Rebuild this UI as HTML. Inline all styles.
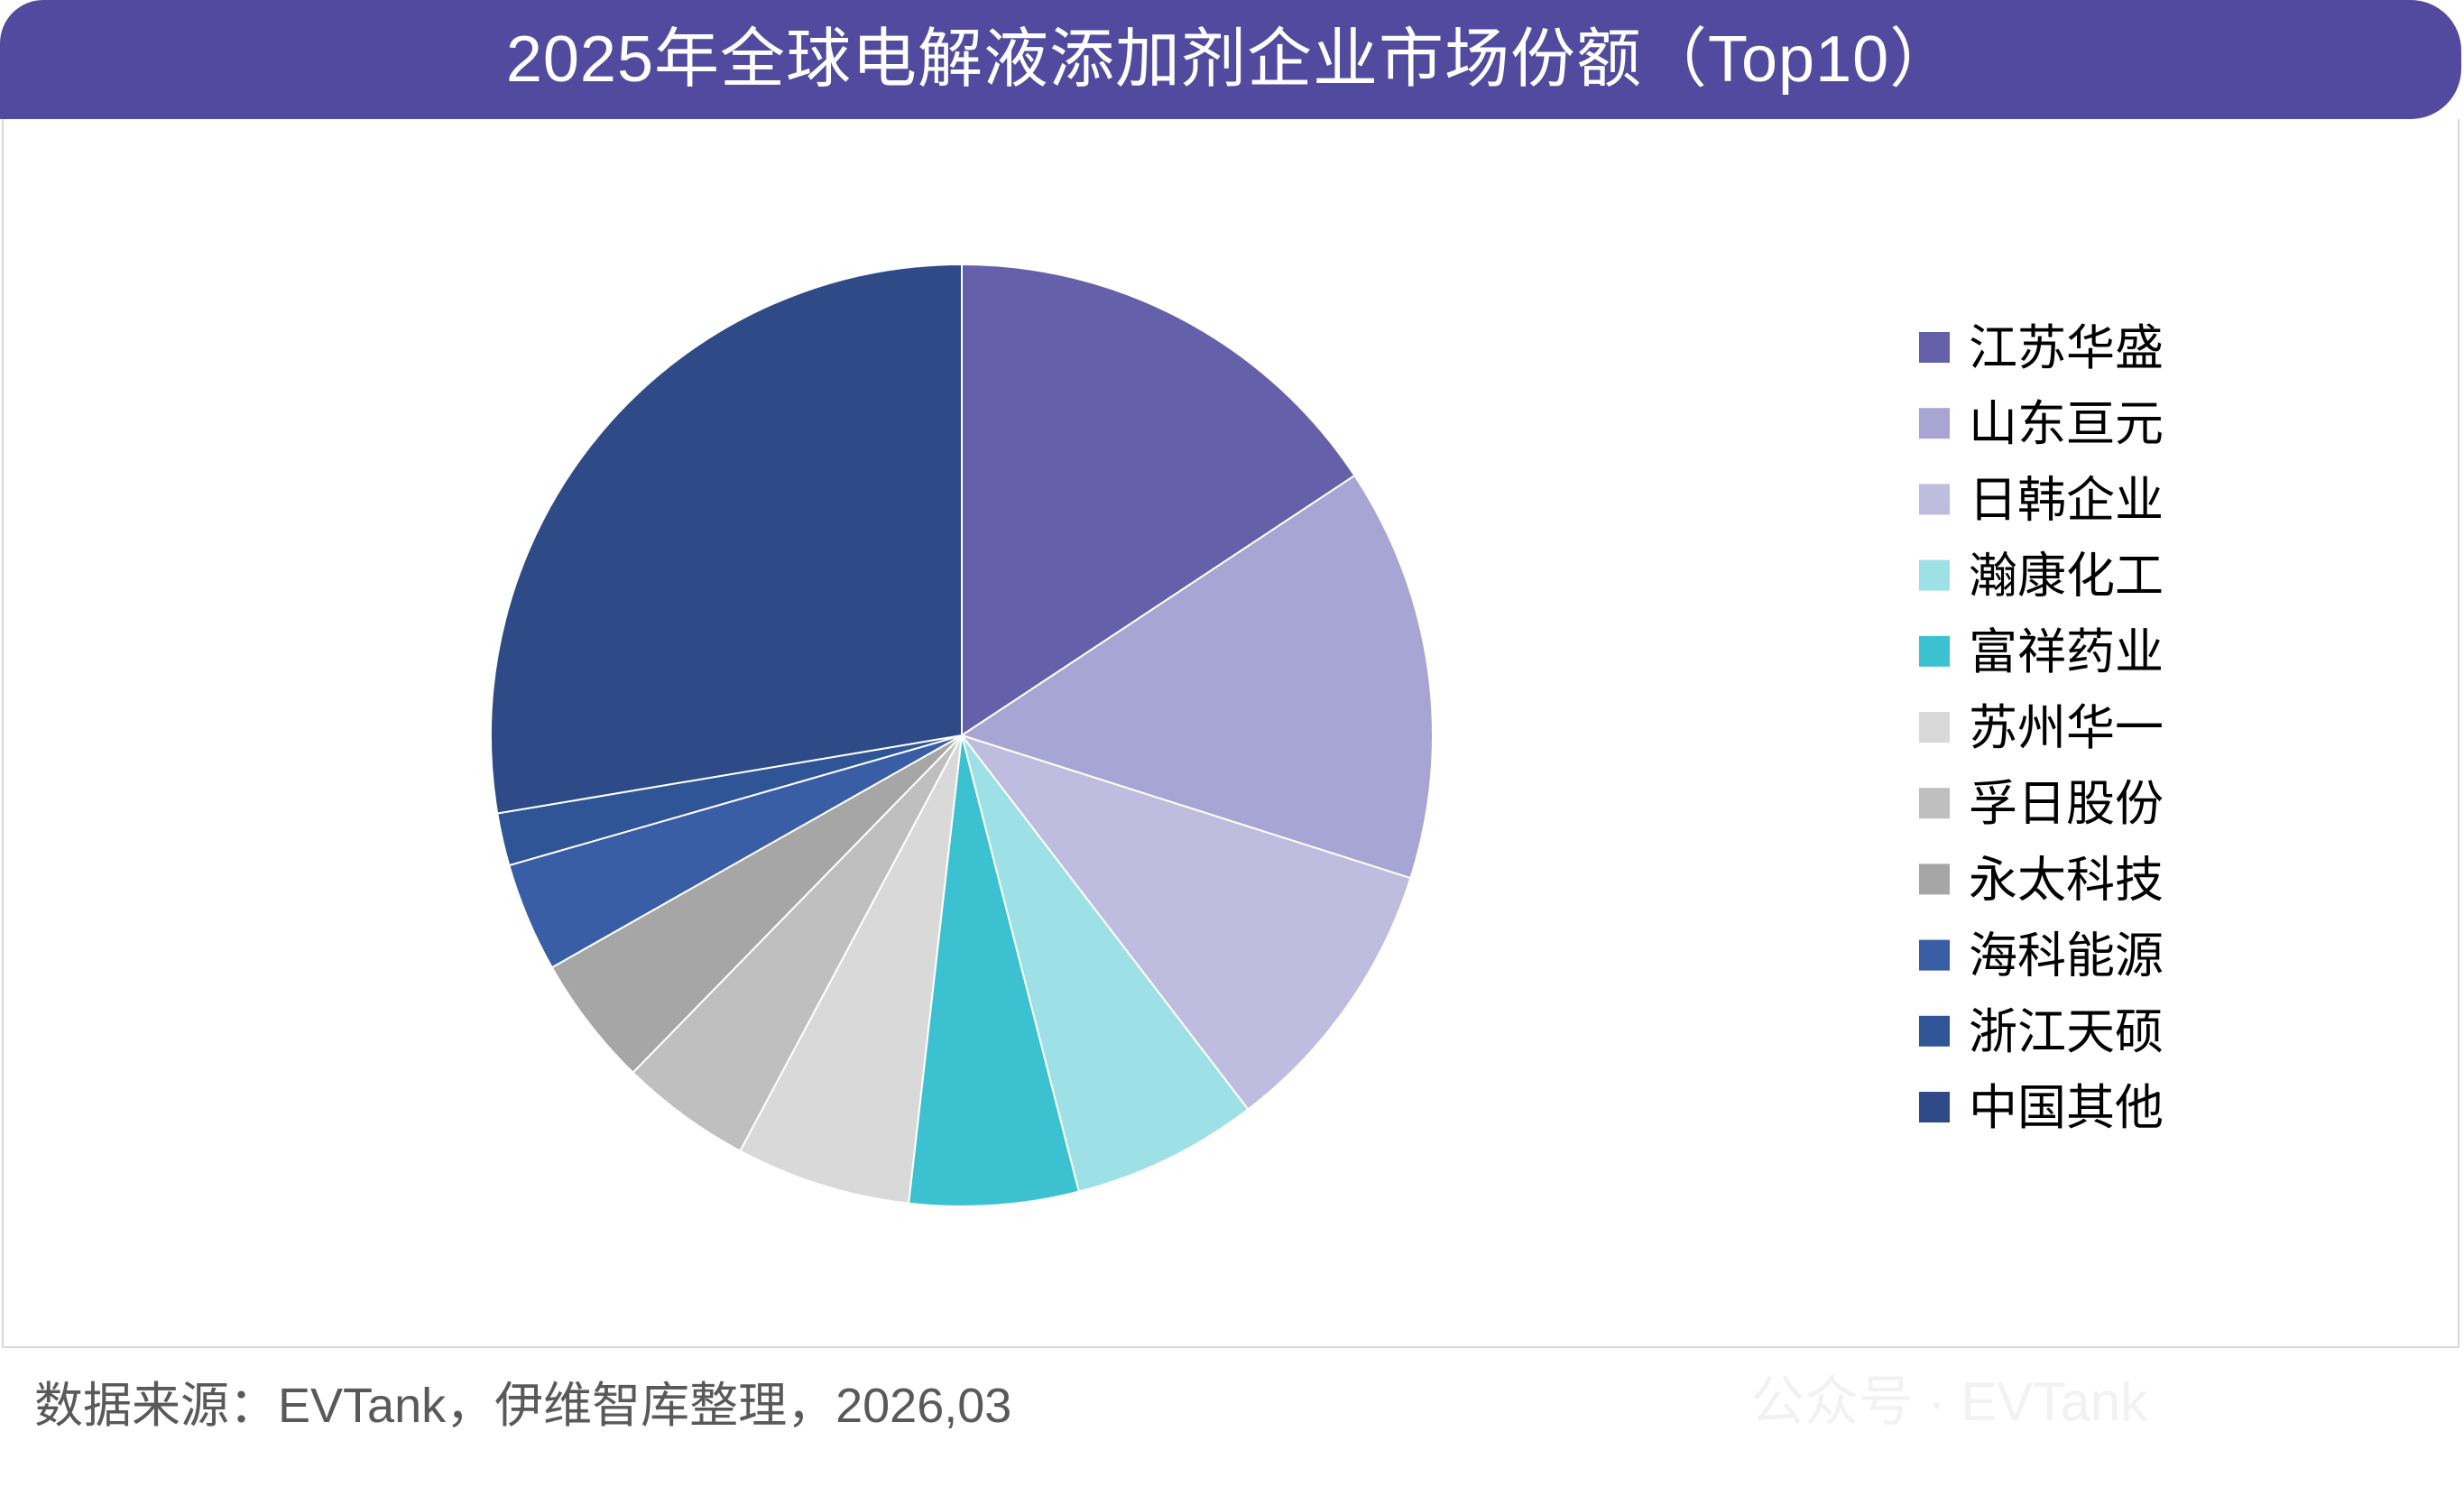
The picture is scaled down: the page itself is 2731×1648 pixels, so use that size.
<!DOCTYPE html>
<html><head><meta charset="utf-8"><style>
html,body{margin:0;padding:0;background:#fff;}
body{width:2731px;height:1648px;position:relative;overflow:hidden;font-family:"Liberation Sans","Noto Sans CJK SC",sans-serif;}
#title{position:absolute;left:0;top:0;width:2728px;height:132px;background:#524a9e;border-radius:48px 56px 56px 0;color:#fff;font-size:72px;letter-spacing:1px;line-height:132px;text-align:center;}
#box{position:absolute;left:2px;top:132px;width:2724px;height:1362px;border:2px solid #d9d9d9;border-top:none;box-sizing:border-box;}
#foot{position:absolute;left:38px;top:1513px;font-size:54px;color:#595959;}
#wm{position:absolute;left:1940px;top:1505px;font-size:60px;color:#f2f2f2;}
</style></head><body>
<div id="title">2025年全球电解液添加剂企业市场份额（Top10）</div>
<div id="box"></div>
<svg id="chart" width="2731" height="1648" style="position:absolute;left:0;top:0"></svg>
<div id="foot">数据来源：EVTank，伊维智库整理，2026,03</div>
<div id="wm">公众号 · EVTank</div>
<script>
const categories=["江苏华盛","山东亘元","日韩企业","瀚康化工","富祥药业","苏州华一","孚日股份","永太科技","海科能源","浙江天硕","中国其他"];
const shares=[15.7,14.2,9.7,6.4,5.8,6.0,4.5,4.5,3.75,1.8,27.65];
const colors=["#6560aa","#a7a5d4","#bebde0","#9de0e6","#3bc1cf","#d9d9d9","#bfbfbf","#a6a6a6","#3a5ea6","#2f5597","#2e4b87"];
const NS="http://www.w3.org/2000/svg";
const svg=document.getElementById('chart');
const cx=1066,cy=815,r=522;
const total=shares.reduce((a,b)=>a+b,0);
function pt(a){return [cx+r*Math.sin(a),cy-r*Math.cos(a)];}
let acc=0;
shares.forEach((v,i)=>{
  const a0=acc/total*2*Math.PI;acc+=v;const a1=acc/total*2*Math.PI;
  const p0=pt(a0),p1=pt(a1);
  const p=document.createElementNS(NS,'path');
  p.setAttribute('d',`M${cx},${cy}L${p0[0]},${p0[1]}A${r},${r} 0 ${a1-a0>Math.PI?1:0} 1 ${p1[0]},${p1[1]}Z`);
  p.setAttribute('fill',colors[i]);p.setAttribute('stroke','#fff');p.setAttribute('stroke-width','2');
  
  
  svg.appendChild(p);
});
categories.forEach((c,i)=>{
  const y=385+i*84.2;
  const g=document.createElementNS(NS,'g');
  
  
  const s=document.createElementNS(NS,'rect');
  s.setAttribute('x',2127);s.setAttribute('y',y-17);s.setAttribute('width',34);s.setAttribute('height',34);s.setAttribute('fill',colors[i]);
  const t=document.createElementNS(NS,'text');
  t.setAttribute('x',2182);t.setAttribute('y',y+19);t.setAttribute('font-size','54');t.setAttribute('fill','#000');
  t.setAttribute('font-family','"Liberation Sans","Noto Sans CJK SC",sans-serif');
  t.textContent=c;
  g.appendChild(s);g.appendChild(t);svg.appendChild(g);
});
</script>
</body></html>
